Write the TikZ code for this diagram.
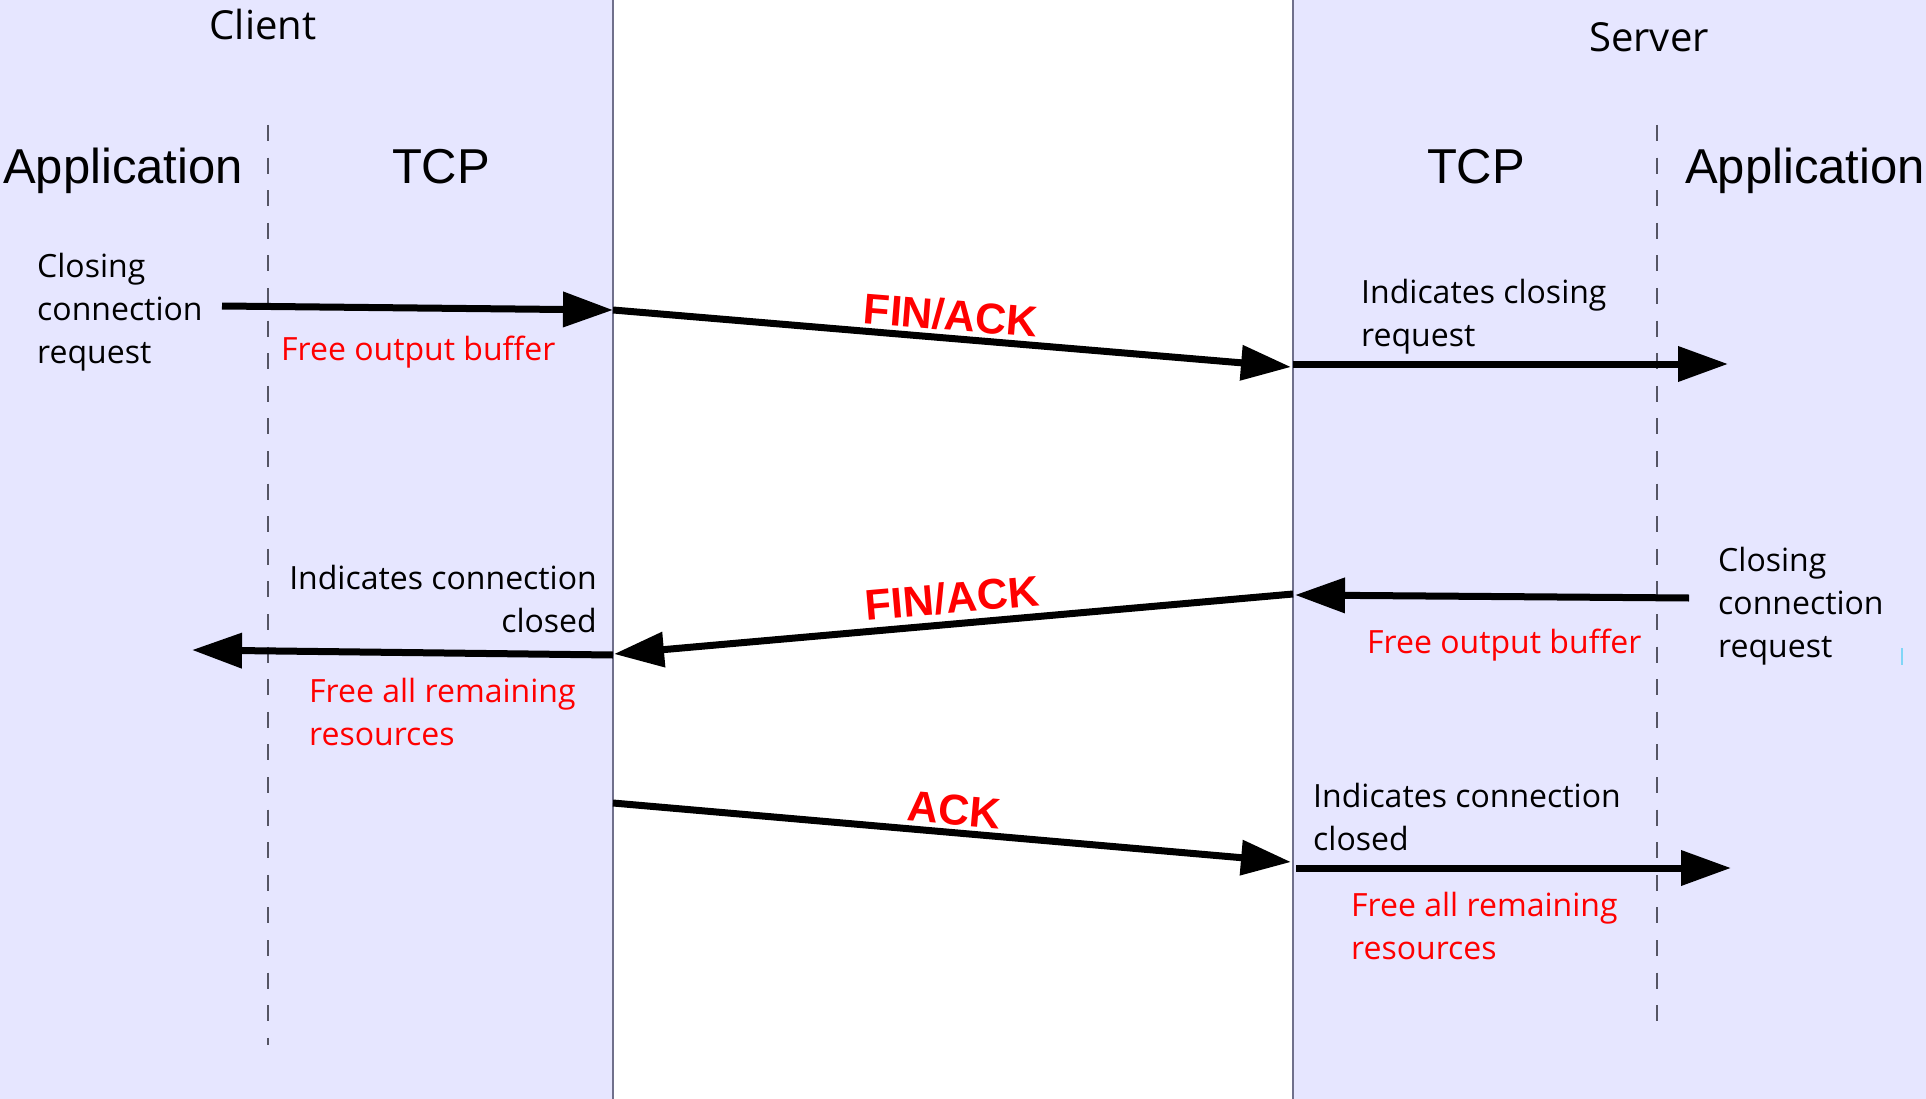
\documentclass[tikz,border=0pt]{standalone}
\usepackage{fontspec}
\usepackage{tikz}
\usetikzlibrary{arrows.meta}
\setmainfont{Open Sans}
\newfontfamily\arialfont{Liberation Sans}
\definecolor{panelfill}{RGB}{230,230,255}
\definecolor{panelline}{RGB}{112,112,140}
\definecolor{dashline}{RGB}{85,85,100}
\newcommand{\notefont}{\fontsize{32}{43}\selectfont}
\newcommand{\layerfont}{\arialfont\fontsize{49}{55}\selectfont}
\newcommand{\sidefont}{\fontsize{40}{46}\selectfont}
\newcommand{\flagfont}{\arialfont\bfseries\fontsize{43}{48}\selectfont}

\begin{document}
\begin{tikzpicture}[x=1pt, y=-1pt,
	note/.style={font=\notefont, anchor=base west, align=left, inner sep=0pt},
	rednote/.style={note, text=red},
	flag/.style={font=\flagfont, text=red, inner sep=0pt},
	msg/.style={line width=7pt, -{Triangle[length=50pt,width=34pt]}},
	layerline/.style={dashline, line width=1.5pt, dash pattern=on 16pt off 16.6pt}]
	\useasboundingbox (0,0) rectangle (1926,1099);
	% panels
	\fill[panelfill] (0,0) rectangle (613,1099);
	\fill[panelfill] (1293,0) rectangle (1926,1099);
	\draw[panelline, line width=2pt] (613,0) -- (613,1099);
	\draw[panelline, line width=2pt] (1293,0) -- (1293,1099);
	\draw[layerline] (268,125) -- (268,1045);
	\draw[layerline] (1657,125) -- (1657,1036);
	\draw[cyan!50, line width=2pt] (1902,648) -- (1902,665);
	% headings
	\node (client) [font=\sidefont, anchor=base, inner sep=0pt] at (263,40) {Client};
	\node (server) [font=\sidefont, anchor=base, inner sep=0pt] at (1649,52) {Server};
	\node (capp) [font=\layerfont, anchor=base west, inner sep=0pt] at (3,184) {Application};
	\node (ctcp) [font=\layerfont, anchor=base, inner sep=0pt] at (441,184) {TCP};
	\node (stcp) [font=\layerfont, anchor=base, inner sep=0pt] at (1476,184) {TCP};
	\node (sapp) [font=\layerfont, anchor=base west, inner sep=0pt] at (1685,184) {Application};
	% end points of the messages
	\coordinate (cappA) at (222,306);
	\coordinate (ctcpA) at (613,310);
	\coordinate (stcpA) at (1291,367);
	\coordinate (stcpB) at (1293,364);
	\coordinate (sappB) at (1728,364);
	\coordinate (sappC) at (1689,598);
	\coordinate (stcpC) at (1295,595);
	\coordinate (stcpD) at (1293,594);
	\coordinate (ctcpD) at (614,654);
	\coordinate (ctcpE) at (613,655);
	\coordinate (cappE) at (192,650);
	\coordinate (ctcpF) at (613,803);
	\coordinate (stcpF) at (1291,862);
	\coordinate (stcpG) at (1296,868);
	\coordinate (sappG) at (1731,868);
	\draw[msg] (cappA) -- (ctcpA);
	\draw[msg] (ctcpA) -- (stcpA);
	\draw[msg] (stcpB) -- (sappB);
	\draw[msg] (sappC) -- (stcpC);
	\draw[msg] (stcpD) -- (ctcpD);
	\draw[msg] (ctcpE) -- (cappE);
	\draw[msg] (ctcpF) -- (stcpF);
	\draw[msg] (stcpG) -- (sappG);
	% segment labels
	\node (fin1) [flag, rotate=-4.65] at (951,315) {FIN/ACK};
	\node (fin2) [flag, rotate=4.96] at (952,598) {FIN/ACK};
	\node (ack) [flag, rotate=-4.96] at (954,810) {ACK};
	% notes (base = last line)
	\node (cclose) [note] at (37,363) {Closing\\connection\\request};
	\node (cfree) [rednote] at (281,360) {Free output buffer};
	\node (sind) [note] at (1361,346) {Indicates closing\\request};
	\node (sclose) [note] at (1718,657) {Closing\\connection\\request};
	\node (sfree) [rednote] at (1367,653) {Free output buffer};
	\node (cind) [note, anchor=base east, align=right] at (597,632) {Indicates connection\\closed};
	\node (cfreeall) [rednote] at (309,745) {Free all remaining\\resources};
	\node (sindc) [note] at (1313,850) {Indicates connection\\closed};
	\node (sfreeall) [rednote] at (1351,959) {Free all remaining\\resources};
\end{tikzpicture}
\end{document}
